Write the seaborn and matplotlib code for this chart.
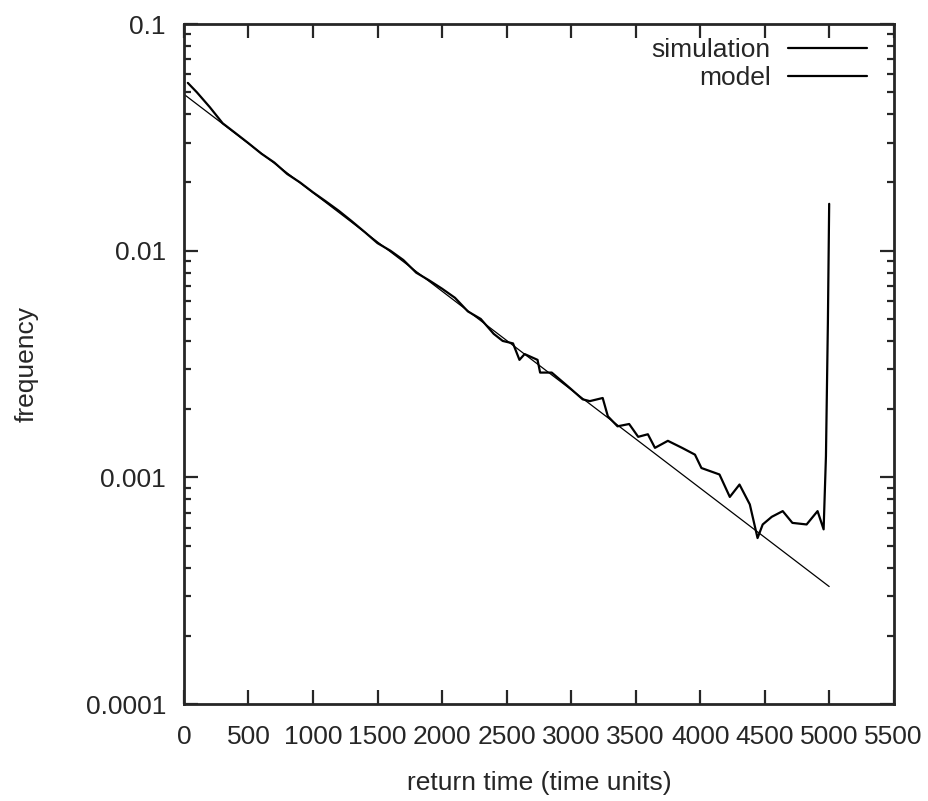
import numpy as np
import pandas as pd
import matplotlib
matplotlib.use('Agg')
import matplotlib.pyplot as plt
import seaborn as sns
from matplotlib.ticker import LogLocator, FuncFormatter, NullFormatter

# values
sim_time = [30, 100, 200, 300, 400, 500, 600, 700, 800, 900, 1000, 1100, 1200,
            1300, 1400, 1500, 1600, 1700, 1800, 1900, 2000, 2100, 2200, 2300,
            2400, 2470, 2550, 2600, 2640, 2740, 2760, 2850, 2990, 3090, 3145,
            3245, 3285, 3360, 3450, 3520, 3595, 3650, 3750, 3860, 3960, 4010,
            4150, 4230, 4305, 4385, 4445, 4485, 4555, 4640, 4715, 4825, 4910,
            4957, 4975, 4990, 5000]
sim_freq = [0.055, 0.050, 0.043, 0.0365, 0.0330, 0.0298, 0.0268, 0.0245, 0.0218,
            0.0200, 0.0181, 0.0165, 0.0150, 0.0135, 0.0121, 0.0108, 0.0100,
            0.0091, 0.0080, 0.0074, 0.0068, 0.0062, 0.0054, 0.0050, 0.0043,
            0.0040, 0.0039, 0.0033, 0.0035, 0.0033, 0.0029, 0.0029, 0.00248,
            0.00221, 0.00217, 0.00224, 0.00186, 0.00168, 0.00172, 0.00151,
            0.00155, 0.00135, 0.00145, 0.00135, 0.00126, 0.00110, 0.00103,
            0.00082, 0.00093, 0.00076, 0.00054, 0.00062, 0.00067, 0.00071,
            0.00063, 0.00062, 0.00071, 0.00059, 0.00124, 0.0048, 0.0161]

model_time = [0, 5000]
model_freq = [0.049, 0.00033]

x_ticks = [0, 500, 1000, 1500, 2000, 2500, 3000, 3500, 4000, 4500, 5000, 5500]

sns.set_style('ticks')
plt.rcParams['font.family'] = ['Liberation Sans', 'DejaVu Sans']
FS = 19

sim = pd.DataFrame({'time': sim_time, 'freq': sim_freq})
model = pd.DataFrame({'time': model_time, 'freq': model_freq})

fig = plt.figure(figsize=(9.29, 8.01), dpi=100)
ax = fig.add_axes([0.198, 0.121, 0.764, 0.849])

sns.lineplot(data=sim, x='time', y='freq', ax=ax, color='black', lw=1.6,
             label='simulation')
sns.lineplot(data=model, x='time', y='freq', ax=ax, color='black', lw=0.9,
             label='model')

ax.set_yscale('log')
ax.set_xlim(0, 5500)
ax.set_ylim(0.0001, 0.1)
ax.set_xticks(x_ticks)
ax.yaxis.set_major_locator(LogLocator(base=10))
ax.yaxis.set_minor_locator(LogLocator(base=10, subs=np.arange(2, 10)))
ax.yaxis.set_major_formatter(FuncFormatter(lambda v, p: '%g' % v))
ax.yaxis.set_minor_formatter(NullFormatter())

ax.tick_params(which='both', direction='in', top=True, right=True,
               labelsize=FS, width=1.6)
ax.tick_params(which='major', length=10)
ax.tick_params(which='minor', length=5)
ax.tick_params(axis='x', which='major', pad=15)
ax.tick_params(axis='y', which='major', pad=13)
for s in ax.spines.values():
    s.set_linewidth(2)
    s.set_visible(True)

ax.set_xlabel('return time (time units)', fontsize=FS, labelpad=16)
ax.set_ylabel('frequency', fontsize=FS)
ax.yaxis.set_label_coords(-0.205, 0.5)

leg = ax.legend(loc='upper right', bbox_to_anchor=(0.977, 0.995),
                frameon=False, markerfirst=False,
                handlelength=3.0, handletextpad=0.65, fontsize=FS,
                borderaxespad=0.0, labelspacing=0.15)
for h in leg.get_lines():
    h.set_linewidth(1.6)

fig.savefig('out.png', dpi=100)
